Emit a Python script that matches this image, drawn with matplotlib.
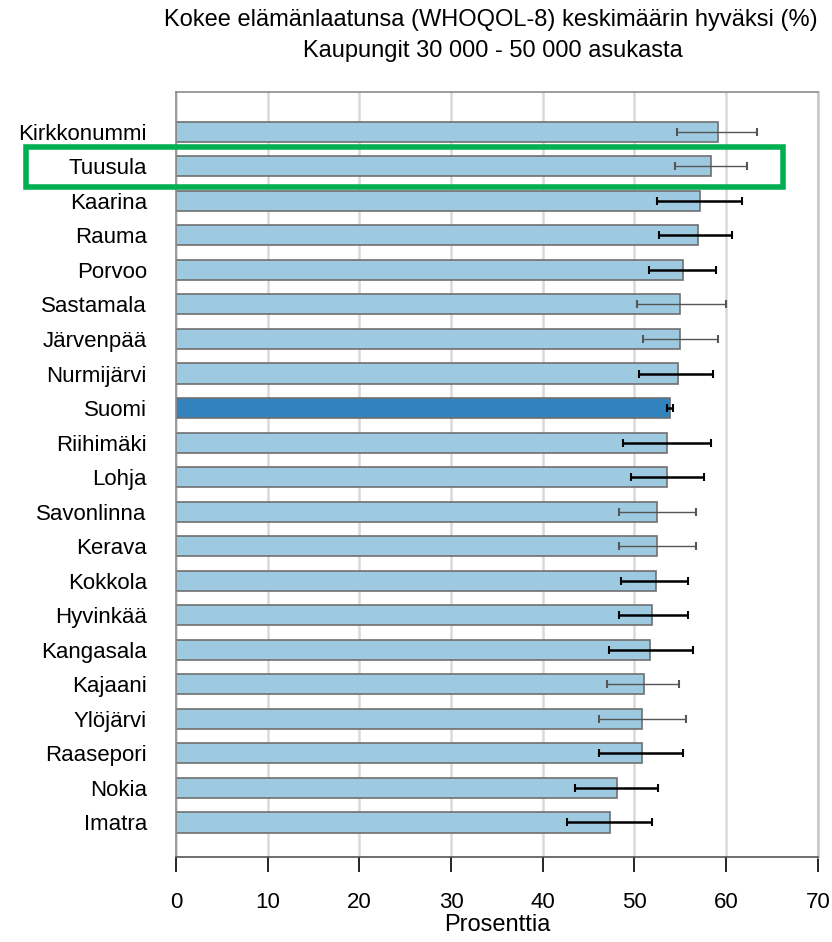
import matplotlib
matplotlib.use("Agg")
import matplotlib.pyplot as plt
from matplotlib.patches import Rectangle

plt.rcParams["font.family"] = ["Liberation Sans", "DejaVu Sans"]

# data (top to bottom)
cities = ["Kirkkonummi", "Tuusula", "Kaarina", "Rauma", "Porvoo", "Sastamala",
          "Järvenpää", "Nurmijärvi", "Suomi", "Riihimäki", "Lohja", "Savonlinna",
          "Kerava", "Kokkola", "Hyvinkää", "Kangasala", "Kajaani", "Ylöjärvi",
          "Raasepori", "Nokia", "Imatra"]
values = [59.1, 58.4, 57.1, 56.9, 55.3, 55.0, 55.0, 54.7, 53.9, 53.6, 53.6,
          52.5, 52.5, 52.3, 51.9, 51.7, 51.0, 50.8, 50.8, 48.1, 47.3]
ci_low = [54.6, 54.4, 52.5, 52.7, 51.6, 50.3, 50.9, 50.5, 53.6, 48.8, 49.6,
          48.3, 48.3, 48.5, 48.3, 47.2, 47.0, 46.1, 46.1, 43.5, 42.6]
ci_high = [63.4, 62.3, 61.7, 60.6, 58.9, 60.0, 59.1, 58.6, 54.2, 58.4, 57.6,
           56.7, 56.7, 55.8, 55.8, 56.4, 54.9, 55.6, 55.3, 52.6, 51.9]
thin_err = {"Kirkkonummi", "Tuusula", "Sastamala", "Järvenpää", "Savonlinna",
            "Kerava", "Kajaani", "Ylöjärvi"}
highlight = "Tuusula"

fig = plt.figure(figsize=(8.32, 9.42), dpi=100)
ax = fig.add_axes([0.2115, 0.0902, 0.7715, 0.8121])

ys = list(range(len(cities)))
colors = ["#3182bd" if c == "Suomi" else "#9ecae1" for c in cities]
ax.barh(ys, values, height=0.58, color=colors, edgecolor="#6f6f6f",
        linewidth=1.2, zorder=2)

for y, c, lo, hi in zip(ys, cities, ci_low, ci_high):
    thin = c in thin_err
    ax.errorbar([(lo + hi) / 2], [y], xerr=[[(hi - lo) / 2]], fmt="none",
                ecolor="#555555" if thin else "black",
                elinewidth=1.0 if thin else 1.8, capsize=3,
                capthick=1.5, zorder=3)

ax.set_xlim(0, 70)
ax.set_ylim(21.0, -1.15)
ax.set_xticks(range(0, 71, 10))
ax.set_yticks(ys)
ax.set_yticklabels(cities, fontsize=16)
ax.tick_params(axis="y", length=0, pad=21)
ax.tick_params(axis="x", length=11, width=1.2, direction="out",
               labelsize=16, pad=14, colors="black")
ax.grid(axis="x", color="#d9d9d9", lw=1.8, zorder=0)
ax.set_axisbelow(True)
for s in ["top", "left"]:
    ax.spines[s].set_color("#8c8c8c")
    ax.spines[s].set_linewidth(1.2)
ax.spines["right"].set_color("#c8c8c8")
ax.spines["right"].set_linewidth(1.8)
ax.spines["bottom"].set_color("#555555")
ax.spines["bottom"].set_linewidth(1.2)
ax.set_xlabel("Prosenttia", fontsize=17, labelpad=1)

fig.text(0.59, 0.979, "Kokee elämänlaatunsa (WHOQOL-8) keskimäärin hyväksi (%)",
         ha="center", va="center", fontsize=17)
fig.text(0.592, 0.946, "Kaupungit 30 000 - 50 000 asukasta",
         ha="center", va="center", fontsize=17)

# green highlight box around Tuusula row
box = Rectangle((26 / 832, 1 - 187 / 942), (783 - 26) / 832, 40 / 942,
                transform=fig.transFigure, fill=False, edgecolor="#00b050",
                linewidth=4, zorder=10)
fig.patches.append(box)

fig.savefig("out.png", dpi=100)
